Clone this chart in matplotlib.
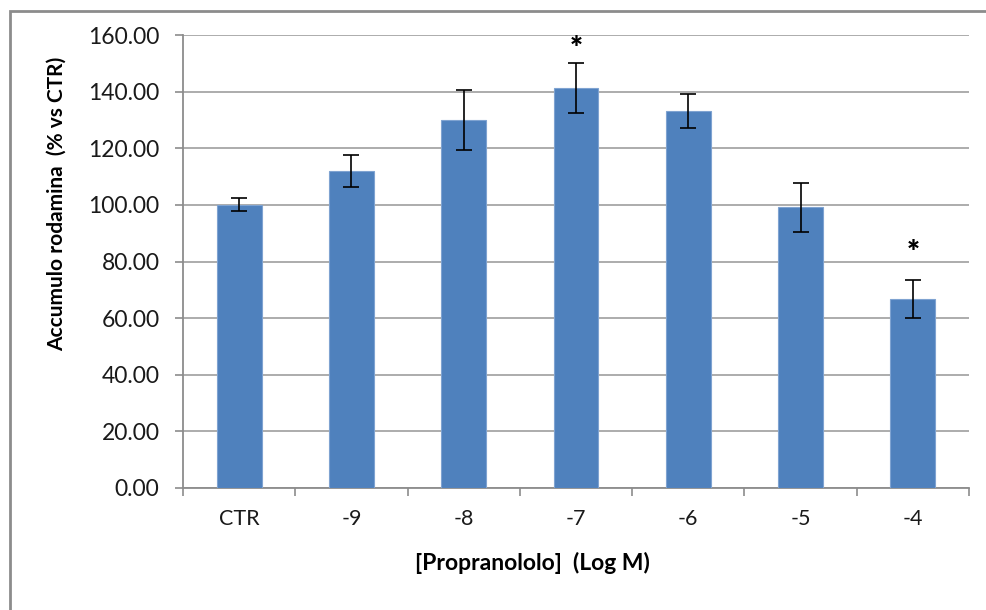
import matplotlib.pyplot as plt
import numpy as np
from matplotlib.patches import Rectangle

plt.rcParams['font.family'] = ['Lato', 'DejaVu Sans']

# data
categories = ['CTR', '-9', '-8', '-7', '-6', '-5', '-4']
values = [100.0, 112.0, 130.0, 141.4, 133.1, 99.2, 66.8]
errors = [2.3, 5.7, 10.6, 8.8, 6.0, 8.7, 6.8]
stars = ['', '', '', '*', '', '', '*']
star_y = [0, 0, 0, 155.0, 0, 0, 83.0]
yticks = [0, 20, 40, 60, 80, 100, 120, 140, 160]

fig = plt.figure(figsize=(9.86, 6.10), dpi=100)
ax = fig.add_axes([183/986, 1 - 488/610, 786/986, 453/610])

# outer chart border (cropped at right/bottom)
fig.patches.append(Rectangle((10/986, -0.1), 1.1, (610 - 11)/610 + 0.1,
                             transform=fig.transFigure, fill=False,
                             edgecolor='#8c8c8c', linewidth=2))

x = np.arange(len(categories))
ax.bar(x, values, width=0.4, color='#4F81BD', edgecolor='#7FA3D1',
       linewidth=0.8, zorder=3)
ax.errorbar(x, values, yerr=errors, fmt='none', ecolor='black',
            elinewidth=1.2, capsize=6, capthick=1.2, zorder=4)
for xi, s, sy in zip(x, stars, star_y):
    if s:
        ax.text(xi, sy, s, ha='center', va='center', fontsize=22,
                fontweight='heavy', zorder=5)

ax.set_xlim(-0.5, len(categories) - 0.5)
ax.set_ylim(0, 160)
ax.set_yticks(yticks)
ax.set_yticklabels(['%.2f' % v for v in yticks], fontsize=16.5, color='#1a1a1a')
ax.yaxis.grid(True, color='#a6a6a6', linewidth=1.3, zorder=0)
ax.set_axisbelow(True)

ax.set_xticks(x)
ax.set_xticklabels(categories, fontsize=15.5, color='#1a1a1a')
ax.set_xticks(np.arange(-0.5, len(categories)), minor=True)
ax.tick_params(axis='x', which='major', length=0, pad=15)
ax.tick_params(axis='x', which='minor', length=6, color='#8c8c8c', width=1.2)
ax.tick_params(axis='y', length=6, color='#8c8c8c', width=1.2, pad=11)

for side in ['top', 'right']:
    ax.spines[side].set_visible(False)
for side in ['left', 'bottom']:
    ax.spines[side].set_color('#8c8c8c')
    ax.spines[side].set_linewidth(1.3)

fig.text(57/986, 1 - 204/610, 'Accumulo rodamina  (% vs CTR)', rotation=90,
         ha='center', va='center', fontsize=15, fontweight='bold')
fig.text(532/986, 1 - 563/610, '[Propranololo]  (Log M)',
         ha='center', va='center', fontsize=16.5, fontweight='bold')

fig.savefig('out.png', dpi=100)
